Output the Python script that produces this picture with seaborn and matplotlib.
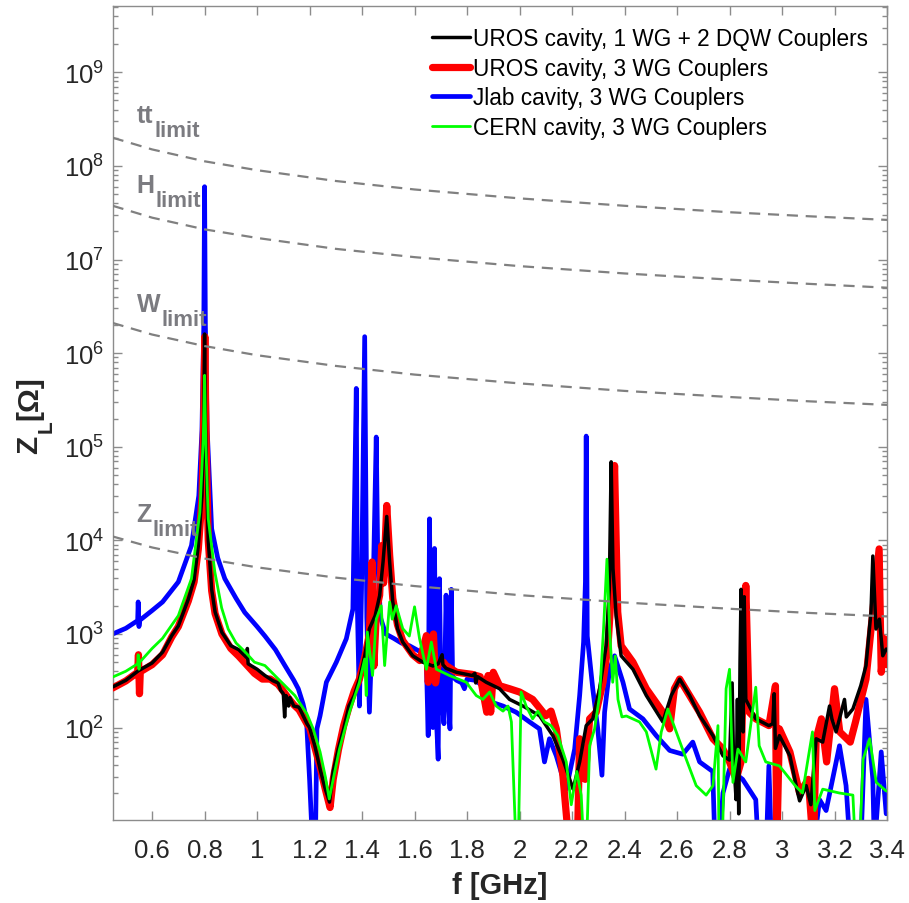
import matplotlib
matplotlib.use("Agg")
import matplotlib.pyplot as plt
import matplotlib.ticker as mticker
import pandas as pd
import seaborn as sns

# Longitudinal impedance Z_L [Ohm] versus frequency [GHz]
# UROS cavity, 1 WG + 2 DQW couplers
uros_dqw_f = [0.45, 0.50, 0.548, 0.60, 0.64, 0.675, 0.70, 0.738, 0.76, 0.776,
              0.79, 0.797, 0.800, 0.803, 0.81, 0.814, 0.827, 0.84, 0.866, 0.90,
              0.93, 0.96, 0.963, 0.966, 1.00, 1.03, 1.06, 1.08, 1.09, 1.10,
              1.105, 1.11, 1.12, 1.125, 1.14, 1.16, 1.19, 1.20, 1.22, 1.24,
              1.26, 1.276, 1.29, 1.31, 1.33, 1.35, 1.37, 1.39, 1.41, 1.428,
              1.45, 1.467, 1.48, 1.494, 1.505, 1.517, 1.535, 1.555, 1.593, 1.631,
              1.67, 1.69, 1.705, 1.708, 1.72, 1.759, 1.82, 1.83, 1.833, 1.84,
              1.873, 1.924, 1.962, 2.013, 2.076, 2.127, 2.165, 2.204, 2.229, 2.254,
              2.279, 2.305, 2.33, 2.342, 2.349, 2.356, 2.368, 2.387, 2.432, 2.483,
              2.546, 2.578, 2.61, 2.648, 2.686, 2.737, 2.775, 2.80, 2.81, 2.815,
              2.825, 2.83, 2.835, 2.84, 2.844, 2.848, 2.852, 2.856, 2.862, 2.875,
              2.90, 2.95, 2.965, 2.97, 2.975, 2.99, 3.03, 3.06, 3.067, 3.092,
              3.11, 3.13, 3.155, 3.181, 3.19, 3.206, 3.238, 3.245, 3.27, 3.30,
              3.32, 3.339, 3.346, 3.358, 3.371, 3.384, 3.397]
uros_dqw_z = [272, 320, 405, 490, 640, 960, 1220, 2350, 3800, 8700,
              3.0e4, 2.0e5, 1.6e6, 2.0e5, 2.5e4, 1.0e4, 3000, 1720, 1040, 750,
              680, 560, 700, 480, 420, 360, 317, 300, 250, 230,
              130, 220, 170, 210, 170, 165, 110, 100, 64, 36,
              22, 16, 34, 60, 97, 170, 220, 330, 585, 1140,
              1570, 2570, 5900, 1.8e4, 5900, 2200, 1140, 820, 585, 500,
              455, 480, 600, 470, 430, 390, 360, 380, 300, 350,
              305, 260, 200, 170, 134, 82, 46, 22, 43, 105,
              124, 260, 750, 3000, 6.9e4, 5000, 1570, 585, 420, 220,
              115, 220, 330, 220, 134, 82, 50, 45, 300, 50,
              17, 200, 12, 500, 3000, 300, 90, 2500, 200, 170,
              124, 105, 110, 230, 60, 82, 50, 20, 16.5, 24,
              15, 76, 70, 170, 124, 90, 200, 130, 158, 280,
              460, 1720, 6800, 1130, 1440, 585, 690]

# UROS cavity, 3 WG couplers
uros_wg_f = [0.45, 0.50, 0.545, 0.548, 0.552, 0.555, 0.60, 0.64, 0.675, 0.70,
             0.738, 0.76, 0.776, 0.79, 0.797, 0.801, 0.805, 0.814, 0.827, 0.84,
             0.866, 0.90, 0.93, 0.96, 0.99, 1.02, 1.05, 1.08, 1.10, 1.12,
             1.14, 1.16, 1.19, 1.20, 1.22, 1.24, 1.26, 1.278, 1.29, 1.31,
             1.33, 1.35, 1.37, 1.39, 1.41, 1.428, 1.438, 1.445, 1.455, 1.467,
             1.475, 1.482, 1.494, 1.505, 1.517, 1.535, 1.555, 1.593, 1.62, 1.645,
             1.652, 1.665, 1.672, 1.68, 1.69, 1.71, 1.72, 1.76, 1.82, 1.85,
             1.875, 1.88, 1.89, 1.90, 1.924, 1.962, 2.00, 2.05, 2.10, 2.12,
             2.14, 2.165, 2.19, 2.22, 2.229, 2.25, 2.267, 2.292, 2.318, 2.337,
             2.349, 2.362, 2.374, 2.387, 2.432, 2.483, 2.546, 2.572, 2.59, 2.61,
             2.648, 2.686, 2.737, 2.775, 2.80, 2.825, 2.844, 2.862, 2.875, 2.90,
             2.95, 2.975, 2.98, 2.99, 3.03, 3.067, 3.10, 3.12, 3.13, 3.15,
             3.17, 3.20, 3.22, 3.26, 3.28, 3.32, 3.346, 3.37, 3.378, 3.39,
             3.40]
uros_wg_z = [265, 315, 390, 600, 230, 395, 470, 600, 930, 1200,
             2250, 3600, 8000, 2.8e4, 2.0e5, 1.5e6, 1.5e5, 1.0e4, 2900, 1650,
             1000, 700, 580, 470, 380, 330, 330, 290, 245, 205,
             175, 155, 110, 100, 62, 38, 22, 14, 28, 58,
             105, 165, 245, 330, 560, 1000, 5870, 455, 1800, 2600,
             8800, 3500, 2.36e4, 7000, 2400, 1250, 850, 600, 520, 960,
             305, 500, 1000, 300, 480, 500, 460, 390, 370, 350,
             146, 360, 146, 390, 280, 260, 240, 200, 134, 150,
             97, 31, 5, 5, 76, 28, 124, 146, 305, 750,
             2600, 6.3e4, 1720, 750, 500, 260, 146, 97, 260, 330,
             220, 146, 76, 59, 43, 28, 43, 3300, 146, 124,
             105, 280, 5, 97, 55, 20, 28, 5, 76, 124,
             43, 260, 90, 70, 115, 330, 1720, 8100, 390, 890,
             470]

# Jlab cavity, 3 WG couplers
jlab_f = [0.45, 0.50, 0.545, 0.547, 0.550, 0.553, 0.60, 0.64, 0.70, 0.75,
          0.778, 0.79, 0.797, 0.80, 0.803, 0.81, 0.827, 0.85, 0.877, 0.92,
          0.953, 1.00, 1.03, 1.07, 1.106, 1.14, 1.157, 1.175, 1.188, 1.20,
          1.212, 1.222, 1.228, 1.24, 1.264, 1.302, 1.34, 1.365, 1.378, 1.382,
          1.39, 1.398, 1.41, 1.418, 1.428, 1.44, 1.454, 1.46, 1.47, 1.49,
          1.52, 1.55, 1.58, 1.62, 1.645, 1.652, 1.657, 1.662, 1.67, 1.676,
          1.682, 1.69, 1.695, 1.70, 1.712, 1.72, 1.728, 1.735, 1.74, 1.745,
          1.76, 1.78, 1.79, 1.80, 1.83, 1.86, 1.886, 1.937, 1.987, 2.038,
          2.076, 2.095, 2.114, 2.14, 2.178, 2.21, 2.229, 2.244, 2.251, 2.254,
          2.258, 2.279, 2.298, 2.314, 2.324, 2.343, 2.362, 2.394, 2.419, 2.47,
          2.521, 2.572, 2.622, 2.66, 2.686, 2.736, 2.745, 2.76, 2.775, 2.80,
          2.85, 2.90, 2.91, 2.94, 2.95, 2.96, 3.12, 3.143, 3.168, 3.219,
          3.244, 3.26, 3.30, 3.32, 3.346, 3.352, 3.378, 3.397]
jlab_z = [1000, 1150, 1390, 2200, 1200, 1400, 1780, 2200, 3600, 8800,
          3.0e4, 1.5e5, 2.0e6, 6.0e7, 2.0e6, 1.5e5, 1.33e4, 6500, 3900, 2400,
          1700, 1200, 950, 680, 460, 320, 260, 180, 124, 28,
          5, 5, 97, 134, 305, 500, 890, 1850, 4.2e5, 2000,
          170, 3000, 1.5e6, 1500, 146, 1500, 1.27e5, 5900, 1500, 1000,
          900, 800, 750, 650, 500, 82, 1.7e4, 300, 100, 8200,
          150, 46, 3900, 300, 110, 2600, 200, 97, 3000, 350,
          320, 300, 260, 330, 320, 280, 190, 170, 146, 115,
          97, 43, 76, 50, 22, 59, 220, 820, 3600, 1.3e5,
          950, 260, 97, 31, 146, 420, 585, 305, 158, 124,
          82, 57, 52, 70, 43, 34, 5, 5, 20, 36,
          28, 17, 5, 5, 39, 5, 5, 17, 13, 64,
          24, 5, 5, 200, 28, 5, 55, 12]

# CERN cavity, 3 WG couplers
cern_f = [0.45, 0.50, 0.545, 0.547, 0.55, 0.553, 0.60, 0.64, 0.70, 0.75,
          0.782, 0.795, 0.80, 0.805, 0.814, 0.839, 0.865, 0.89, 0.92, 0.953,
          0.99, 1.03, 1.081, 1.144, 1.19, 1.215, 1.24, 1.26, 1.275, 1.29,
          1.314, 1.352, 1.39, 1.41, 1.416, 1.42, 1.44, 1.454, 1.473, 1.486,
          1.505, 1.515, 1.53, 1.555, 1.58, 1.60, 1.619, 1.645, 1.664, 1.683,
          1.733, 1.797, 1.835, 1.86, 1.886, 1.911, 1.937, 1.956, 1.969, 1.987,
          1.995, 2.006, 2.025, 2.05, 2.07, 2.095, 2.12, 2.146, 2.178, 2.197,
          2.218, 2.235, 2.245, 2.255, 2.267, 2.286, 2.305, 2.32, 2.333, 2.343,
          2.355, 2.365, 2.375, 2.39, 2.407, 2.457, 2.483, 2.52, 2.54, 2.565,
          2.597, 2.635, 2.673, 2.711, 2.737, 2.756, 2.76, 2.772, 2.787, 2.80,
          2.813, 2.832, 2.862, 2.90, 2.913, 2.938, 2.99, 3.05, 3.078, 3.116,
          3.125, 3.155, 3.219, 3.27, 3.28, 3.295, 3.309, 3.334, 3.359, 3.397]
cern_z = [347, 400, 480, 600, 420, 500, 700, 900, 1570, 3900,
          2.0e4, 1.2e5, 5.8e5, 1.0e5, 1.7e4, 4600, 1900, 1130, 800, 650,
          500, 460, 330, 220, 140, 95, 55, 30, 17.3, 28,
          59, 146, 305, 540, 220, 1050, 360, 1440, 2000, 460,
          2200, 1440, 2000, 1140, 950, 1950, 890, 420, 820, 420,
          360, 305, 220, 200, 240, 170, 150, 170, 115, 5,
          5, 240, 170, 124, 150, 115, 105, 82, 43, 15,
          34, 19, 5, 5, 64, 97, 220, 1130, 6300, 1130,
          305, 580, 200, 130, 133, 115, 90, 36, 90, 158,
          90, 46, 24, 19, 24, 105, 5, 5, 260, 420,
          26, 59, 43, 270, 64, 43, 39, 24, 20, 90,
          13, 22, 20, 19, 5, 5, 46, 76, 26, 21]

# Stability thresholds (dashed grey curves)
limit_f = [0.45, 0.6, 0.8, 1.0, 1.3, 1.6, 2.0, 2.4, 2.8, 3.1, 3.4]
tt_limit = [2.0e8, 1.5e8, 1.12e8, 9.0e7, 6.9e7, 5.6e7, 4.5e7, 3.75e7, 3.2e7, 2.9e7, 2.65e7]
h_limit = [3.75e7, 2.8e7, 2.1e7, 1.7e7, 1.3e7, 1.06e7, 8.5e6, 7.1e6, 6.1e6, 5.5e6, 5.0e6]
w_limit = [2.1e6, 1.58e6, 1.19e6, 9.5e5, 7.3e5, 5.9e5, 4.75e5, 3.95e5, 3.4e5, 3.06e5, 2.8e5]
z_limit = [1.1e4, 8.4e3, 6.4e3, 5.15e3, 4.0e3, 3.25e3, 2.6e3, 2.17e3, 1.86e3, 1.68e3, 1.54e3]

limit_names = ["tt", "H", "W", "Z"]
limit_series = [tt_limit, h_limit, w_limit, z_limit]
limit_label_f = [0.541, 0.541, 0.541, 0.541]
limit_label_z = [2.95e8, 5.27e7, 2.83e6, 1.62e4]

x_ticks = [0.6, 0.8, 1.0, 1.2, 1.4, 1.6, 1.8, 2.0, 2.2, 2.4, 2.6, 2.8, 3.0, 3.2, 3.4]
y_ticks = [1e2, 1e3, 1e4, 1e5, 1e6, 1e7, 1e8, 1e9]

sns.set_theme(style="ticks")
plt.rcParams["font.family"] = ["Liberation Sans", "DejaVu Sans"]
plt.rcParams["mathtext.fontset"] = "custom"
plt.rcParams["mathtext.rm"] = "Liberation Sans"
plt.rcParams["mathtext.it"] = "Liberation Sans:italic"
plt.rcParams["mathtext.bf"] = "Liberation Sans:bold"

W_PX, H_PX = 909, 904
fig = plt.figure(figsize=(W_PX / 100, H_PX / 100), dpi=100)
ax = fig.add_axes([0.124, 0.0918, 0.8518, 0.9004])
ax.set_yscale("log")

series = [
    ("Jlab cavity, 3 WG Couplers", jlab_f, jlab_z, "#0000ff", 3.4, 2),
    ("UROS cavity, 3 WG Couplers", uros_wg_f, uros_wg_z, "#ff0000", 5.2, 3),
    ("UROS cavity, 1 WG + 2 DQW Couplers", uros_dqw_f, uros_dqw_z, "#000000", 2.5, 4),
    ("CERN cavity, 3 WG Couplers", cern_f, cern_z, "#00ff00", 2.0, 5),
]
for label, f, z, color, lw, zo in series:
    df = pd.DataFrame({"f": f, "Z": z})
    sns.lineplot(data=df, x="f", y="Z", ax=ax, color=color, linewidth=lw,
                 estimator=None, sort=False, label=label, zorder=zo)

grey = "#7b7b80"
for vals in limit_series:
    dfl = pd.DataFrame({"f": limit_f, "Z": vals})
    sns.lineplot(data=dfl, x="f", y="Z", ax=ax, color="#808080", linewidth=1.6,
                 estimator=None, sort=False, zorder=6,
                 legend=False).lines[-1].set_dashes((5, 3.5))

ax.set_xlim(0.45, 3.4)
ax.set_ylim(10.3, 5.1e9)

ax.set_xticks(x_ticks)
ax.xaxis.set_major_formatter(mticker.FuncFormatter(lambda v, p: f"{v:g}"))
ax.yaxis.set_major_locator(mticker.FixedLocator(y_ticks))
ax.yaxis.set_major_formatter(mticker.LogFormatterSciNotation())
ax.yaxis.set_minor_locator(mticker.LogLocator(base=10, subs=range(2, 10), numticks=20))
ax.yaxis.set_minor_formatter(mticker.NullFormatter())

spine_col = "#8c8c8c"
for s in ax.spines.values():
    s.set_color(spine_col)
    s.set_linewidth(1.0)
    s.set_visible(True)
ax.tick_params(which="both", direction="in", top=True, right=True,
               color=spine_col, width=1.0, labelcolor="#262626")
ax.tick_params(which="major", length=6.5, labelsize=18.5)
ax.tick_params(axis="x", which="major", pad=13)
ax.tick_params(axis="y", which="major", pad=6)
ax.tick_params(which="minor", length=3.5)

ax.set_xlabel("f [GHz]", fontsize=21, fontweight="bold", color="#262626")
ax.xaxis.set_label_coords(0.5, -0.0627)
ax.set_ylabel("")

# vertical axis title: Z with a dropped subscript L, then the unit
def px(x, y):
    return x / W_PX, 1 - y / H_PX

ylab_kw = dict(rotation=90, rotation_mode="anchor", ha="left", va="baseline",
               fontweight="bold", color="#262626")
fig.text(*px(37, 454), "Z", fontsize=21.5, **ylab_kw)
fig.text(*px(52, 433), "L", fontsize=15, **ylab_kw)
fig.text(*px(37, 420), "[Ω]", fontsize=21.5, **ylab_kw)

# threshold labels with a large subscript
fig.canvas.draw()
for name, lf, lz in zip(limit_names, limit_label_f, limit_label_z):
    t = ax.text(lf, lz, name, fontsize=18, fontweight="bold", color=grey,
                va="baseline", ha="left", zorder=7)
    fig.canvas.draw()
    bb = t.get_window_extent()
    x0, y0 = ax.transData.transform((lf, lz))
    ax.annotate("limit", xy=(lf, lz), xycoords="data",
                xytext=(bb.x1 - x0 + 1, -14), textcoords="offset pixels",
                fontsize=16, fontweight="bold", color=grey,
                va="baseline", ha="left", zorder=7)

handles, labels = ax.get_legend_handles_labels()
order = [labels.index(n) for n in ["UROS cavity, 1 WG + 2 DQW Couplers",
                                   "UROS cavity, 3 WG Couplers",
                                   "Jlab cavity, 3 WG Couplers",
                                   "CERN cavity, 3 WG Couplers"]]
leg = ax.legend([handles[i] for i in order], [labels[i] for i in order],
                loc="upper left", bbox_to_anchor=(0.4124, 0.974),
                frameon=False, fontsize=16.3, borderpad=0, borderaxespad=0,
                handlelength=1.68, handletextpad=0.15, labelspacing=0.29)
for txt in leg.get_texts():
    txt.set_color("#000000")
leg.set_zorder(8)

fig.savefig("out.png", dpi=100)
